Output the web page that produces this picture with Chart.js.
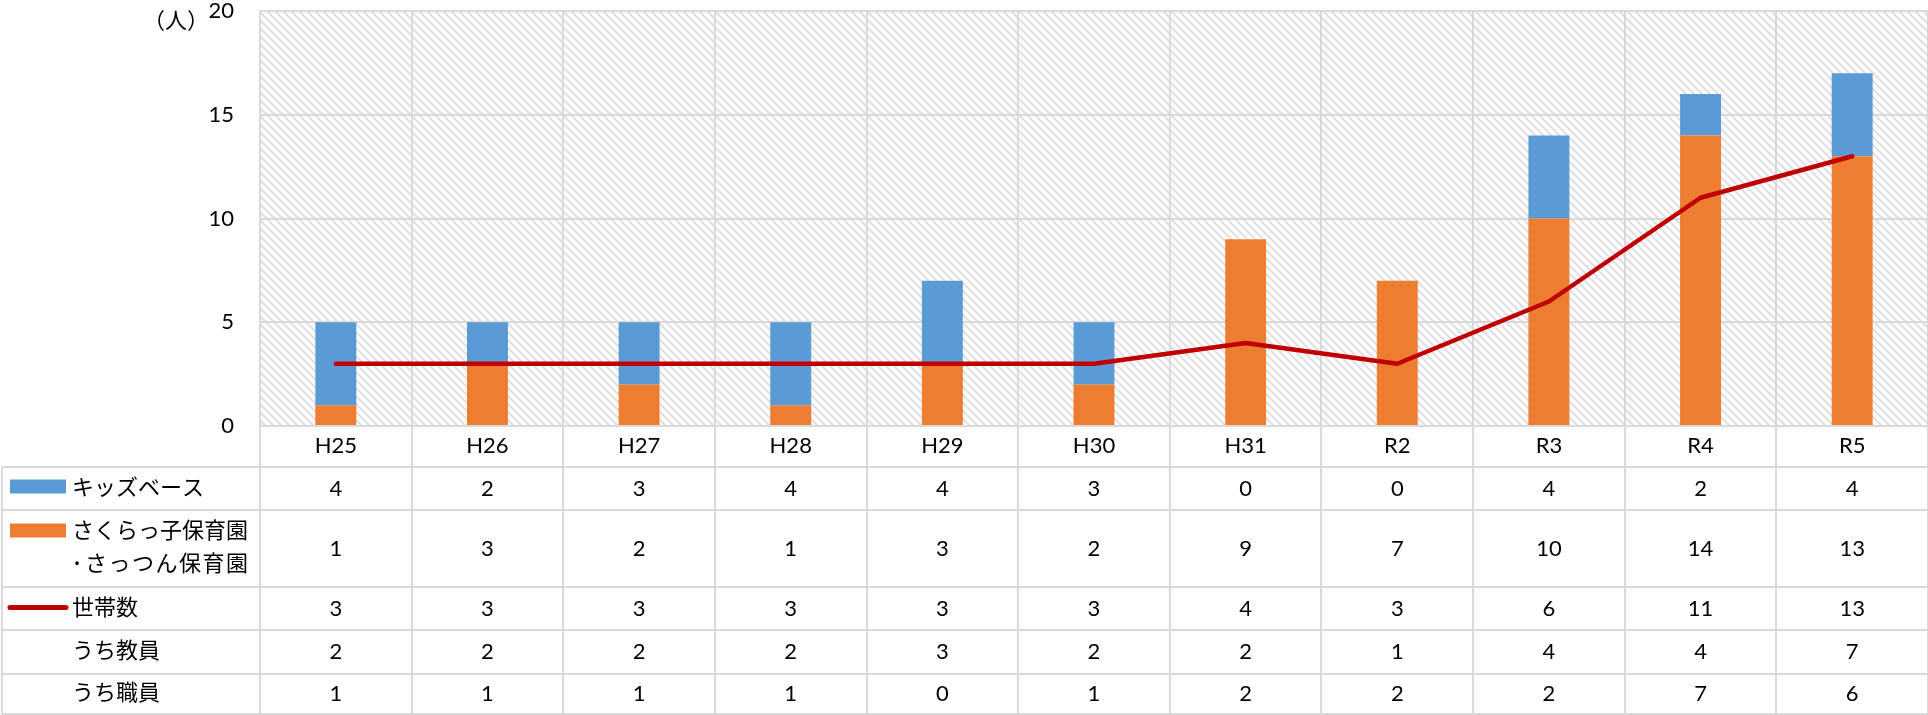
<!DOCTYPE html>
<html lang="ja">
<head>
<meta charset="utf-8">
<script src="https://cdn.jsdelivr.net/npm/chart.js@4"></script>
<style>
  html, body { margin: 0; padding: 0; background: #fff; }
  #wrap { width: 1928px; height: 715px; position: relative; }
</style>
</head>
<body>
<div id="wrap"><canvas id="chart"></canvas></div>
<script>
// data
const years = ['H25', 'H26', 'H27', 'H28', 'H29', 'H30', 'H31', 'R2', 'R3', 'R4', 'R5'];
const kidsBase = [4, 2, 3, 4, 4, 3, 0, 0, 4, 2, 4];
const sakura = [1, 3, 2, 1, 3, 2, 9, 7, 10, 14, 13];
const households = [3, 3, 3, 3, 3, 3, 4, 3, 6, 11, 13];
const teachers = [2, 2, 2, 2, 3, 2, 2, 1, 4, 4, 7];
const staff = [1, 1, 1, 1, 0, 1, 2, 2, 2, 7, 6];
const yTicks = [0, 5, 10, 15, 20];
const unitLabel = '（人）';

const BLUE = '#5B9BD5';
const ORANGE = '#ED7D31';
const RED = '#C00000';
const GRID = '#d9d9d9';
const FONT = '22px Lato, "Noto Sans CJK JP", sans-serif';

// table rows under the chart
const rows = [
  { label: ['キッズベース'], key: 'box', color: BLUE, values: kidsBase, top: 467, bottom: 510 },
  { label: ['さくらっ子保育園', '・さっつん保育園'], key: 'box', color: ORANGE, values: sakura, top: 510, bottom: 587 },
  { label: ['世帯数'], key: 'line', color: RED, values: households, top: 587, bottom: 630 },
  { label: ['うち教員'], key: null, values: teachers, top: 630, bottom: 674 },
  { label: ['うち職員'], key: null, values: staff, top: 674, bottom: 714 }
];

function makeHatch() {
  const c = document.createElement('canvas');
  c.width = 8; c.height = 8;
  const g = c.getContext('2d');
  g.strokeStyle = '#e0e0e0';
  g.lineWidth = 2.2;
  g.beginPath();
  g.moveTo(-2, -2); g.lineTo(10, 10);
  g.moveTo(-2, 6); g.lineTo(2, 10);
  g.moveTo(6, -2); g.lineTo(10, 2);
  g.stroke();
  return c;
}

const hatchPlugin = {
  id: 'hatch',
  beforeDraw(chart) {
    const { ctx, chartArea: a } = chart;
    ctx.save();
    ctx.fillStyle = ctx.createPattern(makeHatch(), 'repeat');
    ctx.fillRect(a.left, a.top, a.right - a.left, a.bottom - a.top);
    ctx.restore();
  }
};

// label line starting with a middle dot: small dot, rest spread to the first line's width
function drawDotLine(ctx, text, x, y, right) {
  const rest = text.slice(1);
  ctx.textAlign = 'center';
  ctx.fillText('･', x + 5, y);
  ctx.textAlign = 'left';
  const start = x + 13;
  const w = ctx.measureText(rest).width;
  const sp = Math.max(0, (right - start - w) / (rest.length - 1));
  let cx = start;
  for (const ch of rest) {
    ctx.fillText(ch, cx, y);
    cx += ctx.measureText(ch).width + sp;
  }
}

const tablePlugin = {
  id: 'table',
  afterDraw(chart) {
    const { ctx, chartArea: a } = chart;
    const x = chart.scales.x;
    const half = (x.getPixelForValue(1) - x.getPixelForValue(0)) / 2;
    ctx.save();

    // lines
    ctx.strokeStyle = GRID;
    ctx.lineWidth = 2;
    ctx.beginPath();
    const hLines = [rows[0].top].concat(rows.map(r => r.bottom));
    hLines.forEach(y => { ctx.moveTo(2, y); ctx.lineTo(a.right, y); });
    ctx.moveTo(2, rows[0].top); ctx.lineTo(2, 714);
    for (let i = 0; i <= years.length; i++) {
      const px = Math.round(x.getPixelForValue(i) - half);
      ctx.moveTo(px, a.bottom); ctx.lineTo(px, 714);
    }
    ctx.stroke();

    // text
    ctx.font = FONT;
    ctx.fillStyle = '#000';
    ctx.textBaseline = 'middle';
    rows.forEach(r => {
      const mid = (r.top + r.bottom) / 2;
      if (r.key === 'box') {
        ctx.fillStyle = r.color;
        ctx.fillRect(10, mid - 9 - (r.label.length - 1) * 16, 56, 14);
      } else if (r.key === 'line') {
        ctx.strokeStyle = r.color;
        ctx.lineWidth = 5;
        ctx.lineCap = 'round';
        ctx.beginPath();
        ctx.moveTo(10, mid - 1); ctx.lineTo(66, mid - 1);
        ctx.stroke();
      }
      ctx.fillStyle = '#000';
      ctx.textAlign = 'left';
      const firstRight = 72 + ctx.measureText(r.label[0]).width;
      r.label.forEach((t, k) => {
        const ty = mid + (k - (r.label.length - 1) / 2) * 33 - 1;
        if (k > 0 && t.startsWith('・')) {
          drawDotLine(ctx, t, 72, ty, firstRight);
          ctx.textAlign = 'left';
        } else {
          ctx.fillText(t, 72, ty);
        }
      });
      ctx.textAlign = 'center';
      r.values.forEach((v, i) => {
        ctx.fillText(String(v), x.getPixelForValue(i), mid);
      });
    });

    // unit label
    ctx.textAlign = 'right';
    ctx.fillText(unitLabel, 209, 21);
    ctx.restore();
  }
};

const ctx = document.getElementById('chart').getContext('2d');
new Chart(ctx, {
  type: 'bar',
  data: {
    labels: years,
    datasets: [
      {
        type: 'line',
        label: '世帯数',
        data: households,
        borderColor: RED,
        borderWidth: 4.5,
        borderCapStyle: 'round',
        borderJoinStyle: 'round',
        pointRadius: 0,
        tension: 0,
        stack: 'line',
        order: 0
      },
      {
        label: 'さくらっ子保育園・さっつん保育園',
        data: sakura,
        backgroundColor: ORANGE,
        stack: 'bars',
        order: 1
      },
      {
        label: 'キッズベース',
        data: kidsBase,
        backgroundColor: BLUE,
        stack: 'bars',
        order: 1
      }
    ]
  },
  options: {
    responsive: true,
    maintainAspectRatio: false,
    animation: false,
    devicePixelRatio: 1,
    layout: { padding: { top: 11, right: 0, bottom: 0, left: 0 } },
    datasets: {
      bar: { categoryPercentage: 1, barPercentage: 0.27 }
    },
    plugins: {
      legend: { display: false },
      tooltip: { enabled: false }
    },
    scales: {
      x: {
        stacked: true,
        grid: { color: GRID, lineWidth: 2, drawTicks: false, offset: true },
        border: { color: GRID, width: 2 },
        ticks: { font: { family: 'Lato, "Noto Sans CJK JP", sans-serif', size: 22 }, color: '#000', padding: 7, maxRotation: 0 },
        afterFit: s => { s.height = 289; s.paddingLeft = 0; s.paddingRight = 0; }
      },
      y: {
        stacked: true,
        min: 0,
        max: 20,
        grid: { color: GRID, lineWidth: 2, drawTicks: false },
        border: { color: GRID, width: 2 },
        ticks: { font: { family: 'Lato, "Noto Sans CJK JP", sans-serif', size: 22 }, color: '#000', padding: 26 },
        afterBuildTicks: s => { s.ticks = yTicks.map(v => ({ value: v })); },
        afterFit: s => { s.width = 260; s.paddingTop = 0; s.paddingBottom = 0; }
      }
    }
  },
  plugins: [hatchPlugin, tablePlugin]
});
</script>
</body>
</html>
